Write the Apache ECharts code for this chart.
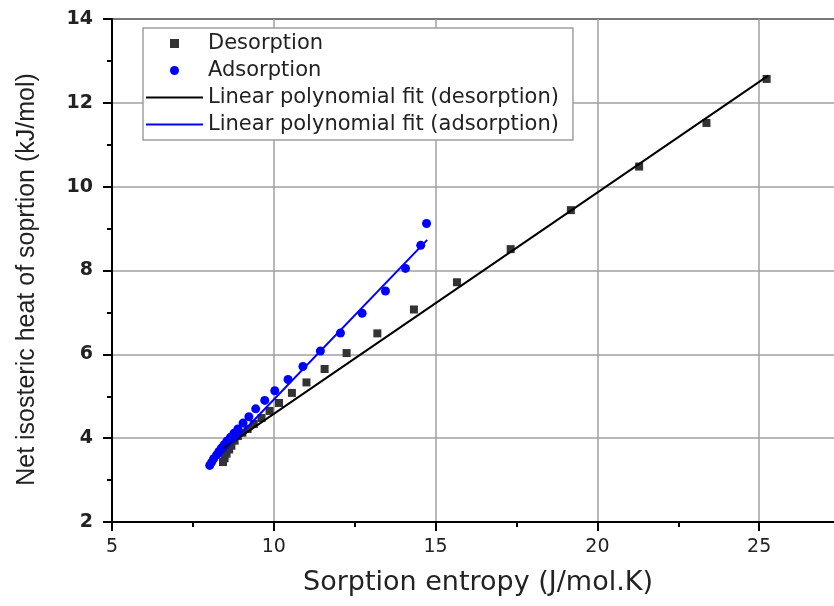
<!DOCTYPE html>
<html><head><meta charset="utf-8">
<script src="https://cdn.jsdelivr.net/npm/echarts@6/dist/echarts.min.js"></script>
<style>html,body{margin:0;padding:0;background:#fff}#c{width:834px;height:606px}</style>
</head><body><div id="c"></div>
<script>
const seriesNames = ['Desorption', 'Adsorption', 'Linear polynomial fit (desorption)', 'Linear polynomial fit (adsorption)'];
const desX = [25.23, 23.37, 21.29, 19.18, 17.32, 15.66, 14.33, 13.20, 12.25, 11.57, 11.01, 10.56, 10.16, 9.87, 9.62, 9.38, 9.19, 9.03, 8.89, 8.79, 8.69, 8.62, 8.54, 8.48, 8.43];
const desY = [12.57, 11.52, 10.48, 9.44, 8.51, 7.72, 7.07, 6.50, 6.03, 5.65, 5.33, 5.08, 4.84, 4.65, 4.48, 4.34, 4.22, 4.13, 4.05, 3.94, 3.82, 3.73, 3.63, 3.52, 3.43];
const adsX = [14.72, 14.54, 14.07, 13.45, 12.73, 12.06, 11.44, 10.90, 10.44, 10.03, 9.72, 9.44, 9.23, 9.05, 8.89, 8.77, 8.66, 8.55, 8.46, 8.38, 8.30, 8.23, 8.14, 8.08, 8.02];
const adsY = [9.12, 8.60, 8.05, 7.51, 6.98, 6.51, 6.08, 5.71, 5.40, 5.13, 4.90, 4.70, 4.51, 4.36, 4.22, 4.12, 4.02, 3.93, 3.84, 3.76, 3.68, 3.60, 3.51, 3.43, 3.35];
const fitDesX = [8.43, 25.28];
const fitDesY = [3.75, 12.65];
const fitAdsX = [8.02, 14.74];
const fitAdsY = [3.33, 8.73];
const xName = 'Sorption entropy (J/mol.K)';
const yName = 'Net isosteric heat of soprtion (kJ/mol)';

const pairs = (xs, ys) => xs.map((x, i) => [x, ys[i]]);
const lineIcon = 'path://M0,0L57,0L57,2L0,2Z';
const squareIcon = 'path://M0,0L1,0L1,1L0,1Z';

const chart = echarts.init(document.getElementById('c'), null, {renderer: 'canvas'});
const axisCommon = {
  type: 'value',
  axisLine: {show: true, onZero: false, lineStyle: {color: '#000', width: 2}},
  axisTick: {show: true, inside: false, length: 9, lineStyle: {color: '#000', width: 2}},
  minorTick: {show: true, splitNumber: 2, length: 5, lineStyle: {color: '#000', width: 2}},
  splitLine: {show: true, lineStyle: {color: '#a0a0a0', width: 1.5}},
  nameLocation: 'middle'
};
chart.setOption({
  animation: false,
  backgroundColor: '#fff',
  grid: {left: 112, top: 19, width: 809, height: 503, containLabel: false, outerBoundsMode: 'none',
         show: true, borderColor: '#000', borderWidth: 2, backgroundColor: 'transparent'},
  legend: {
    orient: 'vertical', left: 143, top: 28, padding: [5, 14, 5, 3],
    itemWidth: 57, itemHeight: 9, itemGap: 6, symbolKeepAspect: true,
    borderColor: '#a0a0a0', borderWidth: 1.5, backgroundColor: '#fff',
    textStyle: {fontFamily: 'DejaVu Sans', fontSize: 21, color: '#222', lineHeight: 20},
    data: [
      {name: seriesNames[0], icon: squareIcon, itemStyle: {color: '#333', opacity: 1}},
      {name: seriesNames[1], icon: 'circle', itemStyle: {color: '#0000ff', opacity: 1}},
      {name: seriesNames[2], icon: lineIcon, itemStyle: {color: '#000', opacity: 1}},
      {name: seriesNames[3], icon: lineIcon, itemStyle: {color: '#0000ff', opacity: 1}}
    ]
  },
  xAxis: Object.assign({}, axisCommon, {
    min: 5, max: 30, interval: 5,
    axisLabel: {fontFamily: 'DejaVu Sans', fontSize: 19, color: '#222', margin: 16},
    name: xName, nameGap: 46,
    nameTextStyle: {fontFamily: 'DejaVu Sans', fontSize: 27, color: '#222', lineHeight: 30, padding: [0, 77, 0, 0]}
  }),
  yAxis: Object.assign({}, axisCommon, {
    min: 2, max: 14, interval: 2,
    axisLabel: {fontFamily: 'DejaVu Sans', fontWeight: 'bold', fontSize: 19, color: '#222', margin: 19},
    name: yName, nameGap: 72,
    nameTextStyle: {fontFamily: 'Liberation Sans', fontSize: 25, color: '#222', lineHeight: 26, padding: [0, 18, 0, 0]}
  }),
  series: [
    {name: seriesNames[0], type: 'scatter', symbol: 'rect', symbolSize: 8, itemStyle: {color: '#333', opacity: 1}, data: pairs(desX, desY)},
    {name: seriesNames[1], type: 'scatter', symbol: 'circle', symbolSize: 9, itemStyle: {color: '#0000ff', opacity: 1}, data: pairs(adsX, adsY)},
    {name: seriesNames[2], type: 'line', symbol: 'none', showSymbol: false, lineStyle: {color: '#000', width: 2}, itemStyle: {color: '#000'}, data: pairs(fitDesX, fitDesY)},
    {name: seriesNames[3], type: 'line', symbol: 'none', showSymbol: false, lineStyle: {color: '#0000ff', width: 2}, itemStyle: {color: '#0000ff'}, data: pairs(fitAdsX, fitAdsY)}
  ]
});
</script></body></html>
